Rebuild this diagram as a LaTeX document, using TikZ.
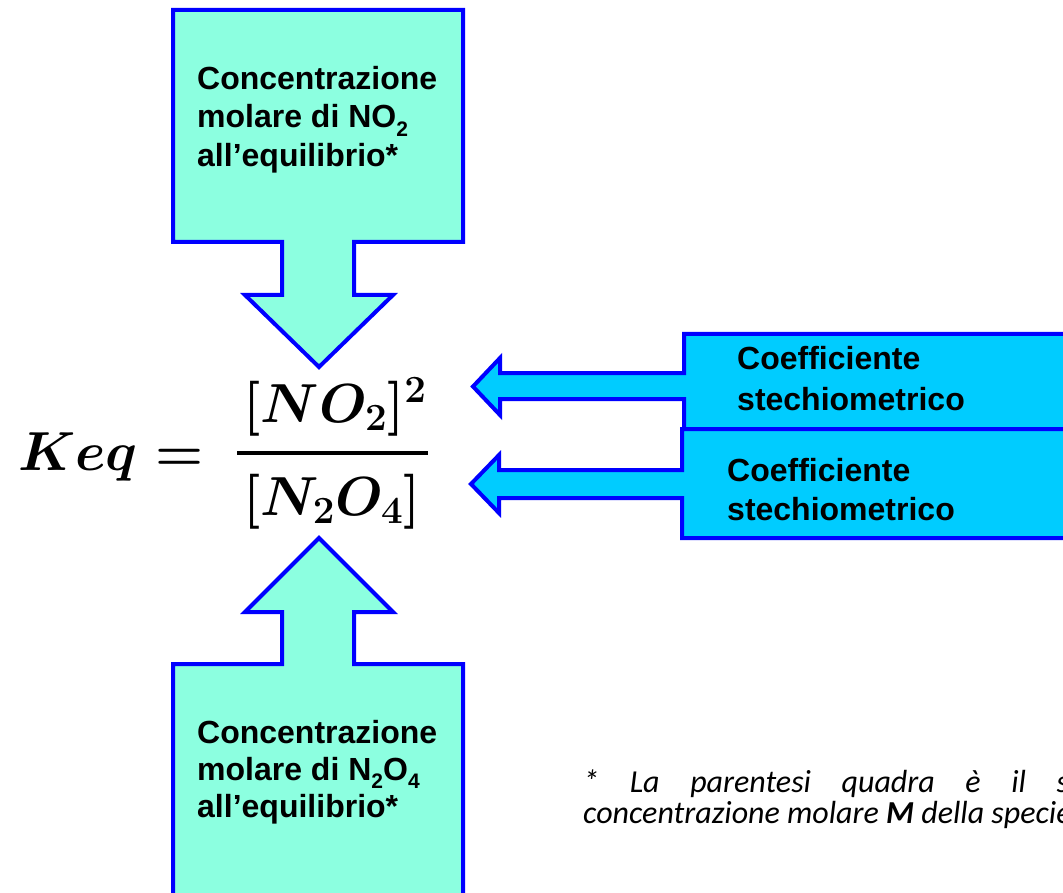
\documentclass[tikz,border=0pt]{standalone}
\usepackage{fix-cm}
\usepackage[no-math]{fontspec}
\setmainfont{Liberation Sans}
\newfontfamily\notefont{Carlito}
\definecolor{mint}{RGB}{140,255,224}
\definecolor{skyfill}{RGB}{0,204,255}
\definecolor{edgeblue}{RGB}{0,0,255}
\newcommand\chemsub[1]{\raisebox{-0.28em}{\fontsize{21}{21}\selectfont #1}}
\newsavebox\keqbox
\newsavebox\numbox
\newsavebox\denbox
\tikzset{
  x=1pt, y=-1pt,
  callout/.style={draw=edgeblue, line width=4pt, line join=miter},
  greencall/.style={callout, fill=mint},
  bluecall/.style={callout, fill=skyfill},
  lbl/.style={anchor=base west, inner sep=0pt, font=\fontsize{32}{38}\bfseries\selectfont},
  mathlbl/.style={inner sep=0pt},
  note/.style={anchor=base west, inner sep=0pt, font=\fontsize{32}{36}\notefont\itshape}
}
\begin{document}
\sbox\keqbox{\fontsize{55}{60}\selectfont\boldmath$Keq=$}%
\sbox\numbox{\fontsize{55}{60}\selectfont\boldmath$[NO_2]^2$}%
\sbox\denbox{\fontsize{55}{60}\selectfont\boldmath$[N_2O_4]$}%
\begin{tikzpicture}
\useasboundingbox (0,0) rectangle (1063,893);
\clip (0,0) rectangle (1063,893);
% top callout (down arrow)
\path[greencall] (173,10) -- (463,10) -- (463,242) -- (354,242) -- (354,295) -- (393,295)
  -- (319,367) -- (245,295) -- (282,295) -- (282,242) -- (173,242) -- cycle;
% bottom callout (up arrow)
\path[greencall] (319,538) -- (393,612) -- (354,612) -- (354,664) -- (463,664) -- (463,910)
  -- (173,910) -- (173,664) -- (282,664) -- (282,612) -- (245,612) -- cycle;
% right upper callout (left arrow)
\path[bluecall] (1080,334) -- (684,334) -- (684,373) -- (500,373) -- (500,358) -- (473,386.5)
  -- (500,415) -- (500,399) -- (684,399) -- (684,429) -- (1080,429) -- cycle;
% right lower callout (left arrow)
\path[bluecall] (1080,429) -- (682,429) -- (682,470) -- (499,470) -- (499,455) -- (471,484)
  -- (499,513) -- (499,498) -- (682,498) -- (682,538) -- (1080,538) -- cycle;

% texts in callouts
\node[lbl] (t1) at (197,90) {Concentrazione};
\node[lbl] (t2) at (197,128) {molare di NO\chemsub{2}};
\node[lbl] (t3) at (197,167) {all’equilibrio*};
\node[lbl] (b1) at (197,743) {Concentrazione};
\node[lbl] (b2) at (197,780) {molare di N\chemsub{2}O\chemsub{4}};
\node[lbl] (b3) at (197,817) {all’equilibrio*};
\node[lbl] (r1) at (737,369) {Coefficiente};
\node[lbl] (r2) at (737,410) {stechiometrico};
\node[lbl] (s1) at (727,481) {Coefficiente};
\node[lbl] (s2) at (727,520) {stechiometrico};

% equation
\node[mathlbl, anchor=base west] (keq) at (18,470) {\usebox\keqbox};
\node[mathlbl, anchor=base] (num) at (335,422) {\usebox\numbox};
\node[mathlbl, anchor=base] (den) at (332,515) {\usebox\denbox};
\coordinate (barL) at (237,453);
\coordinate (barR) at (428,453);
\draw[line width=4pt] (barL) -- (barR);

% footnote
\node[note] (n1) at (583,792) {\makebox[486pt][s]{* La parentesi quadra è il s}};
\node[note] (n2) at (583,823) {concentrazione molare \textbf{M} della specie};
\end{tikzpicture}
\end{document}
